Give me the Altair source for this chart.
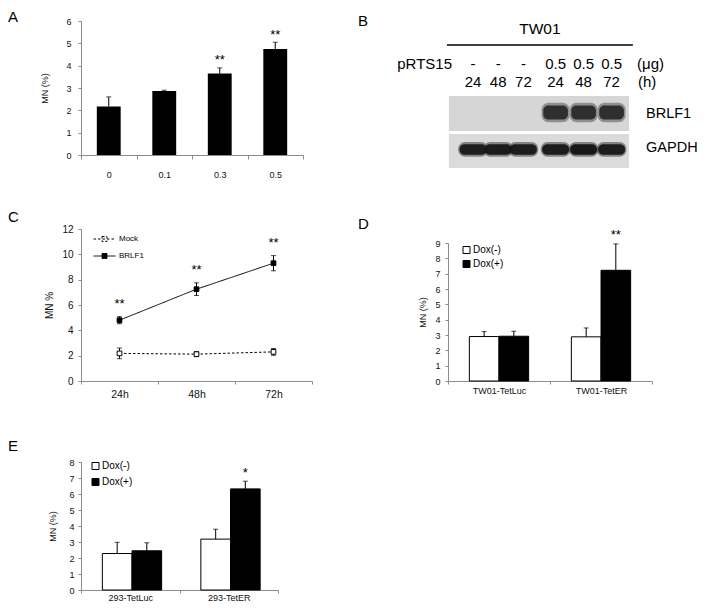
import altair as alt
import pandas as pd

FONT = "Liberation Sans"

# ---------------- data ----------------
# Panel A
a_dose = ["0", "0.1", "0.3", "0.5"]
a_mn = [2.17, 2.87, 3.65, 4.75]
a_err = [0.43, 0.03, 0.25, 0.30]
a_sig = ["", "", "**", "**"]

# Panel B (western blot schematic)
b_lane_pos = [0, 0.9, 1.8, 2.95, 3.95, 4.95]
b_dose = ["-", "-", "-", "0.5", "0.5", "0.5"]
b_time = ["24", "48", "72", "24", "48", "72"]
b_brlf1 = [0, 0, 0, 0.8, 0.8, 0.8]
b_gapdh = [0.92, 0.95, 0.93, 0.95, 0.97, 0.93]

# Panel C
c_time = ["24h", "48h", "72h"]
c_mock = [2.18, 2.12, 2.30]
c_mock_err = [0.42, 0.20, 0.27]
c_brlf1 = [4.80, 7.25, 9.30]
c_brlf1_err = [0.28, 0.50, 0.60]
c_sig = ["**", "**", "**"]

# Panel D
d_line = ["TW01-TetLuc", "TW01-TetER"]
d_minus = [2.90, 2.88]
d_minus_err = [0.32, 0.58]
d_plus = [2.92, 7.22]
d_plus_err = [0.33, 1.72]
d_sig = ["", "**"]

# Panel E
e_line = ["293-TetLuc", "293-TetER"]
e_minus = [2.28, 3.18]
e_minus_err = [0.70, 0.62]
e_plus = [2.45, 6.32]
e_plus_err = [0.50, 0.48]
e_sig = ["", "*"]

treat_order = ["Dox(-)", "Dox(+)"]


def letter(t, dx, dy):
    return alt.TitleParams(text=t, anchor="start", frame="group", orient="top",
                           offset=0, dx=dx, dy=dy, fontSize=15, font=FONT,
                           fontWeight="normal", color="black")


# ---------------- A ----------------
a_df = pd.DataFrame({"dose": a_dose, "mn": a_mn, "err": a_err, "sig": a_sig})
a_df["top"] = a_df["mn"] + a_df["err"]
a_x = alt.X("dose:N", sort=a_dose,
            scale=alt.Scale(paddingInner=0, paddingOuter=0, range=[0, 222]),
            axis=alt.Axis(title=None, labelAngle=0, tickBand="extent", tickSize=4,
                          labelPadding=11, labelFontSize=9))
a_axis = alt.Axis(title="MN (%)", values=list(range(7)), tickSize=3, labelPadding=7,
                  titlePadding=16, labelFontSize=9, titleFontSize=9)
a_ys = alt.Scale(domain=[0, 6], nice=False)


def a_y(f):
    return alt.Y(f"{f}:Q", scale=a_ys, axis=a_axis)


a_base = alt.Chart(a_df)
A = alt.layer(
    a_base.mark_bar(color="black", width={"band": 0.43}).encode(x=a_x, y=a_y("mn")),
    a_base.mark_rule(color="black").encode(x=a_x, y=a_y("mn"), y2="top:Q"),
    a_base.mark_tick(color="black", size=5, thickness=1).encode(x=a_x, y=a_y("top")),
    a_base.mark_text(font=FONT, fontSize=13, baseline="middle", dy=-7.5, color="black").encode(
        x=a_x, y=a_y("top"), text="sig:N"),
).properties(width=231, height=134, title=letter("A", -73, 8))

# ---------------- B ----------------
bx = alt.Scale(domain=[0, 5], range=[25, 165], zero=False, nice=False)
by = alt.Scale(domain=[0, 7], range=[8, 134], zero=False, nice=False)

b_center = pd.DataFrame({
    "label": ["TW01"] + b_dose + b_time,
    "u": [2.39] + b_lane_pos + b_lane_pos,
    "r": [0] + [1.94] * 6 + [2.94] * 6,
    "fs": [15.5] + [15] * 12,
})
b_left = pd.DataFrame({
    "label": ["(\u03bcg)", "(h)", "BRLF1", "GAPDH"],
    "u": [5.86, 5.89, 6.18, 6.18],
    "r": [1.94, 2.94, 4.72, 6.61],
    "fs": [15, 15, 14.5, 14.5],
})
b_right = pd.DataFrame({"label": ["pRTS15"], "u": [-0.75], "r": [1.94], "fs": [15]})
b_line = pd.DataFrame({"u0": [-0.93], "u1": [5.71], "r": [0.89]})
b_blot = pd.DataFrame({"u0": [-0.86, -0.86], "u1": [5.57, 5.57],
                       "r0": [3.72, 5.83], "r1": [5.67, 7.72],
                       "bg": ["#d6d6d6", "#dbdbdb"]})
# halo (blur) and core of each band
b_halo_rows, b_core_rows = [], []
for i, p in enumerate(b_lane_pos):
    if b_brlf1[i] > 0:
        b_halo_rows.append({"u0": p - 0.5, "u1": p + 0.5, "r0": 4.1, "r1": 5.18, "int": 0.45})
        b_core_rows.append({"u0": p - 0.44, "u1": p + 0.44, "r0": 4.25, "r1": 5.03, "int": b_brlf1[i]})
    b_halo_rows.append({"u0": p - 0.53, "u1": p + 0.53, "r0": 6.28, "r1": 7.1, "int": 0.55})
    b_core_rows.append({"u0": p - 0.48, "u1": p + 0.48, "r0": 6.4, "r1": 6.98, "int": b_gapdh[i]})
b_halo = pd.DataFrame(b_halo_rows)
b_core = pd.DataFrame(b_core_rows)


def b_text(df, align):
    return alt.Chart(df).mark_text(font=FONT, align=align, baseline="middle", color="black").encode(
        x=alt.X("u:Q", scale=bx, axis=None),
        y=alt.Y("r:Q", scale=by, axis=None),
        text="label:N",
        size=alt.Size("fs:Q", scale=None, legend=None),
    )


def b_rect(df, **kw):
    return alt.Chart(df).mark_rect(**kw).encode(
        x=alt.X("u0:Q", scale=bx, axis=None), x2="u1:Q",
        y=alt.Y("r0:Q", scale=by, axis=None), y2="r1:Q",
        opacity=alt.Opacity("int:Q", scale=None, legend=None))


B = alt.layer(
    alt.Chart(b_blot).mark_rect().encode(
        x=alt.X("u0:Q", scale=bx, axis=None), x2="u1:Q",
        y=alt.Y("r0:Q", scale=by, axis=None), y2="r1:Q",
        fill=alt.Fill("bg:N", scale=None, legend=None)),
    b_rect(b_halo, color="#3a3a3a", cornerRadius=7),
    b_rect(b_core, color="#161616", cornerRadius=5),
    alt.Chart(b_line).mark_rule(color="black", strokeWidth=1.5).encode(
        x=alt.X("u0:Q", scale=bx, axis=None), x2="u1:Q",
        y=alt.Y("r:Q", scale=by, axis=None)),
    b_text(b_center, "center"),
    b_text(b_left, "left"),
    b_text(b_right, "right"),
).properties(width=204, height=134, title=letter("B", -90, 8))

# ---------------- C ----------------
c_rows = []
for i, t in enumerate(c_time):
    c_rows.append({"time": t, "series": "Mock", "val": c_mock[i], "err": c_mock_err[i], "sig": ""})
    c_rows.append({"time": t, "series": "BRLF1", "val": c_brlf1[i], "err": c_brlf1_err[i], "sig": c_sig[i]})
c_df = pd.DataFrame(c_rows)
c_df["lo"] = c_df["val"] - c_df["err"]
c_df["hi"] = c_df["val"] + c_df["err"]

c_x = alt.X("time:N", sort=c_time, scale=alt.Scale(paddingInner=0, paddingOuter=0),
            axis=alt.Axis(title=None, labelAngle=0, tickBand="extent", tickSize=3,
                          labelPadding=5, labelFontSize=10.5))
c_axis = alt.Axis(title="MN %", values=list(range(0, 13, 2)), tickSize=3, labelPadding=5,
                  titlePadding=7, labelFontSize=10, titleFontSize=10)
c_ys = alt.Scale(domain=[0, 12], nice=False)


def c_y(f):
    return alt.Y(f"{f}:Q", scale=c_ys, axis=c_axis)


c_leg = alt.Legend(title=None, orient="none", legendX=17.5, legendY=4,
                   symbolType="M-2,0H2M-0.45,-0.45H0.45V0.45H-0.45Z", symbolSize=121,
                   symbolStrokeColor="black", symbolStrokeWidth=1,
                   labelFont=FONT, labelFontSize=8, labelColor="black",
                   labelOffset=8.5, rowPadding=6, padding=0)
c_dash = alt.Scale(domain=["Mock", "BRLF1"], range=[[2.5, 2], [1, 0]])
c_fill = alt.Scale(domain=["Mock", "BRLF1"], range=["white", "black"])

c_base = alt.Chart(c_df)
C = alt.layer(
    c_base.mark_line(color="black", strokeWidth=1).encode(
        x=c_x, y=c_y("val"),
        strokeDash=alt.StrokeDash("series:N", scale=c_dash, legend=c_leg)),
    c_base.mark_rule(color="black").encode(x=c_x, y=c_y("lo"), y2="hi:Q", detail="series:N"),
    c_base.mark_tick(color="black", size=5, thickness=1).encode(x=c_x, y=c_y("lo")),
    c_base.mark_tick(color="black", size=5, thickness=1).encode(x=c_x, y=c_y("hi")),
    c_base.mark_point(shape="square", size=22, filled=True, stroke="black", strokeWidth=1,
                      opacity=1).encode(
        x=c_x, y=c_y("val"),
        fill=alt.Fill("series:N", scale=c_fill, legend=c_leg)),
    c_base.mark_text(font=FONT, fontSize=13, baseline="middle", dy=-12.5, color="black").encode(
        x=c_x, y=c_y("hi"), text="sig:N"),
).properties(width=231, height=152, title=letter("C", -73, 1))


# ---------------- D / E ----------------
def grp_df(lines, minus, minus_err, plus, plus_err, sig):
    rows = []
    for i, l in enumerate(lines):
        rows.append({"line": l, "treat": "Dox(-)", "mn": minus[i], "err": minus_err[i], "sig": ""})
        rows.append({"line": l, "treat": "Dox(+)", "mn": plus[i], "err": plus_err[i], "sig": sig[i]})
    df = pd.DataFrame(rows)
    df["top"] = df["mn"] + df["err"]
    return df


def grouped(df, order, ymax, width, xrange, height, yrange, lab_pad_x, lab_pad_y,
            title_pad, leg_x, leg_y, leg_row, star_dy, title):
    x = alt.X("line:N", sort=order,
              scale=alt.Scale(paddingInner=0, paddingOuter=0, range=xrange),
              axis=alt.Axis(title=None, labelAngle=0, tickBand="extent", tickSize=3,
                            labelPadding=lab_pad_x, labelFontSize=9))
    xo = alt.XOffset("treat:N", sort=treat_order,
                     scale=alt.Scale(paddingInner=0, paddingOuter=0.72))
    ax = alt.Axis(title="MN (%)", values=list(range(ymax + 1)), tickSize=3,
                  labelPadding=lab_pad_y, titlePadding=title_pad, labelFontSize=9,
                  titleFontSize=9)
    ys = alt.Scale(domain=[0, ymax], nice=False, range=yrange)

    def y(f):
        return alt.Y(f"{f}:Q", scale=ys, axis=ax)

    leg = alt.Legend(title=None, orient="none", legendX=leg_x, legendY=leg_y,
                     symbolType="square", symbolSize=49, symbolStrokeColor="black",
                     symbolStrokeWidth=1, labelFont=FONT, labelFontSize=10,
                     labelColor="black", labelOffset=1.5, rowPadding=leg_row, padding=0)
    base = alt.Chart(df)
    return alt.layer(
        base.mark_bar(stroke="black", strokeWidth=1).encode(
            x=x, xOffset=xo, y=y("mn"),
            fill=alt.Fill("treat:N", scale=alt.Scale(domain=treat_order, range=["white", "black"]),
                          legend=leg)),
        base.mark_rule(color="black").encode(x=x, xOffset=xo, y=y("mn"), y2="top:Q"),
        base.mark_tick(color="black", size=5, thickness=1).encode(x=x, xOffset=xo, y=y("top")),
        base.mark_text(font=FONT, fontSize=13, baseline="middle", dy=star_dy, color="black").encode(
            x=x, xOffset=xo, y=y("top"), text="sig:N"),
    ).properties(width=width, height=height, title=title)


D = grouped(grp_df(d_line, d_minus, d_minus_err, d_plus, d_plus_err, d_sig), d_line, 9,
            204, [0, 204], 152, [152, 14], 2, 5, 7, 13.5, 16, 2, -9, letter("D", -90, 3))
E = grouped(grp_df(e_line, e_minus, e_minus_err, e_plus, e_plus_err, e_sig), e_line, 8,
            231, [0, 197], 135, [135, 7], 0, 4, 11, 9.5, 6, 4, -8.5, letter("E", -73, -1))

chart = alt.concat(
    A, B, C, D, E, columns=2, spacing={"row": 74, "column": 136}, bounds="flush", align="each"
).resolve_scale(
    fill="independent", strokeDash="independent", x="independent", y="independent"
).resolve_legend(
    fill="independent", strokeDash="independent"
).properties(
    padding={"top": 2, "left": 0, "right": 0, "bottom": 0}
).configure_view(stroke=None).configure_axis(
    domainColor="#8c8c8c", tickColor="#8c8c8c", labelFont=FONT, titleFont=FONT,
    labelColor="#111111", titleColor="#111111", titleFontWeight="normal", grid=False,
    domainWidth=1, tickWidth=1,
)

chart.save("out.html", embed_options={"renderer": "svg", "actions": False})
